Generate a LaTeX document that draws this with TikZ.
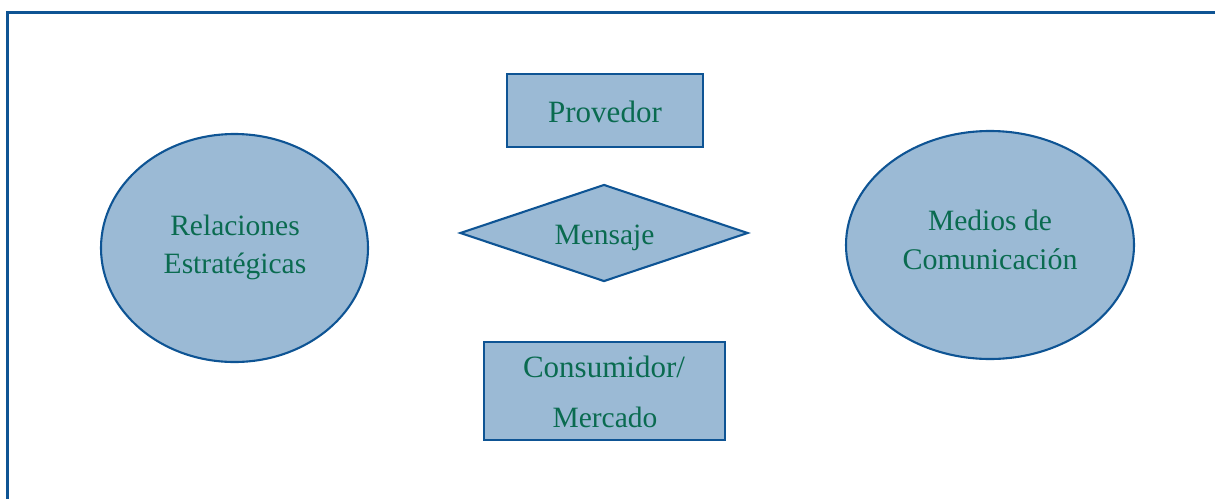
\documentclass[tikz,border=0pt]{standalone}
\usepackage{fontspec}
\setmainfont{Liberation Serif}
\usetikzlibrary{shapes.geometric}
\definecolor{boxfill}{RGB}{155,186,213}
\definecolor{boxline}{RGB}{14,84,148}
\definecolor{txt}{RGB}{10,107,80}
\tikzset{
  shapebase/.style={draw=boxline, fill=boxfill, line width=2.1pt, inner sep=0pt},
  rectbox/.style={shapebase, rectangle},
  ellbox/.style={shapebase, ellipse},
  diabox/.style={shapebase, diamond, aspect=3},
  lbl/.style={anchor=base, inner sep=0pt, text=txt, font=\fontsize{29.5}{36}\selectfont},
  frameline/.style={draw=boxline, line width=3pt}
}
\begin{document}
\begin{tikzpicture}[x=1pt,y=-1pt]
\useasboundingbox (0,0) rectangle (1215,498);
\coordinate (fbl) at (7,500);
\coordinate (ftl) at (7,12);
\coordinate (ftr) at (1217,12);
\draw[frameline] (fbl) -- (ftl) -- (ftr);
\node[rectbox, minimum width=196pt, minimum height=73pt] (prov) at (605,110.5) {};
\node[diabox, minimum width=288pt, minimum height=97pt] (men) at (604,233) {};
\node[rectbox, minimum width=241pt, minimum height=98pt] (cons) at (604.5,391) {};
\node[ellbox, minimum width=267pt, minimum height=228pt] (rel) at (234.5,248) {};
\node[ellbox, minimum width=288pt, minimum height=228pt] (med) at (990,245) {};
\node[lbl, font=\fontsize{31}{36}\selectfont] (provt) at (605,122) {Provedor};
\node[lbl] (ment) at (604.5,244) {Mensaje};
\node[lbl, font=\fontsize{31}{36}\selectfont] (const1) at (604,377) {Consumidor/};
\node[lbl] (const2) at (605,427) {Mercado};
\node[lbl] (relt1) at (235,235) {Relaciones};
\node[lbl] (relt2) at (235,273) {Estratégicas};
\node[lbl] (medt1) at (990,230) {Medios de};
\node[lbl, font=\fontsize{30}{36}\selectfont] (medt2) at (990,269) {Comunicación};
\end{tikzpicture}
\end{document}
